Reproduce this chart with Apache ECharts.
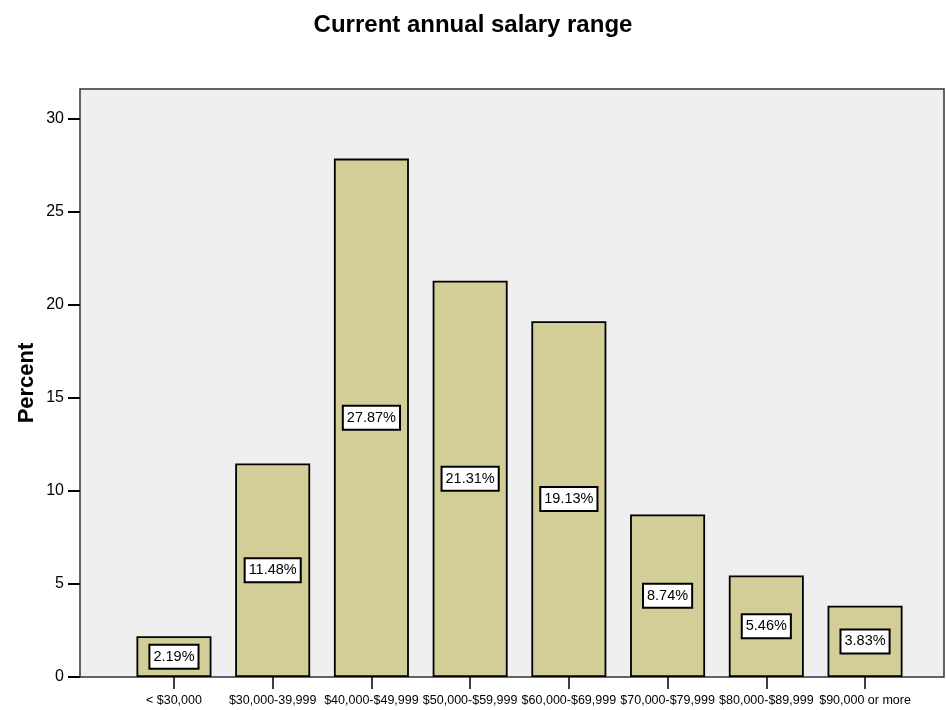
<!DOCTYPE html>
<html>
<head>
<meta charset="utf-8">
<script src="https://cdn.jsdelivr.net/npm/echarts@6/dist/echarts.min.js"></script>
<style>html,body{margin:0;padding:0;background:#fff;}#c{width:946px;height:710px;}</style>
</head>
<body>
<div id="c"></div>
<script>
var categories = ['< $30,000', '$30,000-39,999', '$40,000-$49,999', '$50,000-$59,999', '$60,000-$69,999', '$70,000-$79,999', '$80,000-$89,999', '$90,000 or more'];
var percentValues = [2.19, 11.48, 27.87, 21.31, 19.13, 8.74, 5.46, 3.83];
var yTicks = [0, 5, 10, 15, 20, 25, 30];
var titleText = 'Current annual salary range';
var yName = 'Percent';

var FONT = '"Liberation Sans", Arial, sans-serif';
var chart = echarts.init(document.getElementById('c'));
chart.setOption({
  backgroundColor: '#ffffff',
  animation: false,
  title: {
    text: titleText,
    left: 'center',
    top: 8,
    textStyle: { fontFamily: FONT, fontSize: 24, fontWeight: 'bold', color: '#000' }
  },
  grid: [
    { left: 80, right: 2, top: 89, bottom: 33, show: true, backgroundColor: '#efefef', borderColor: '#333', borderWidth: 1.5 },
    { left: 124.6, right: 31.6, top: 119, bottom: 33, show: false }
  ],
  xAxis: [
    { gridIndex: 0, type: 'value', show: false, min: 0, max: 1 },
    {
      gridIndex: 1, type: 'category', data: categories,
      axisLine: { show: false },
      axisTick: { show: true, alignWithLabel: true, length: 12, lineStyle: { color: '#000', width: 1.5 } },
      axisLabel: { interval: 0, margin: 17, fontFamily: FONT, fontSize: 12.5, color: '#000' }
    }
  ],
  yAxis: [
    {
      gridIndex: 0, type: 'value', min: 0, max: 1,
      axisLine: { show: false }, axisTick: { show: false }, axisLabel: { show: false }, splitLine: { show: false },
      name: yName, nameLocation: 'middle', nameGap: 42,
      nameTextStyle: { fontFamily: FONT, fontSize: 22, fontWeight: 'bold', color: '#000' }
    },
    {
      gridIndex: 1, type: 'value', min: yTicks[0], max: yTicks[yTicks.length - 1], interval: 5,
      offset: 44.6,
      axisLine: { show: false },
      axisTick: { show: true, length: 12, lineStyle: { color: '#000', width: 2 } },
      axisLabel: { margin: 16, fontFamily: FONT, fontSize: 16, color: '#000' },
      splitLine: { show: false }
    }
  ],
  series: [{
    type: 'bar',
    xAxisIndex: 1, yAxisIndex: 1,
    data: percentValues,
    barWidth: 75,
    itemStyle: { color: '#d3ce98', borderColor: '#000', borderWidth: 1.8 },
    label: {
      show: true, position: 'inside',
      formatter: function (p) { return p.value.toFixed(2) + '%'; },
      fontFamily: FONT, fontSize: 14.5, color: '#000',
      backgroundColor: '#fff', borderColor: '#000', borderWidth: 2,
      padding: [4, 3, 3, 3]
    }
  }]
});
</script>
</body>
</html>
